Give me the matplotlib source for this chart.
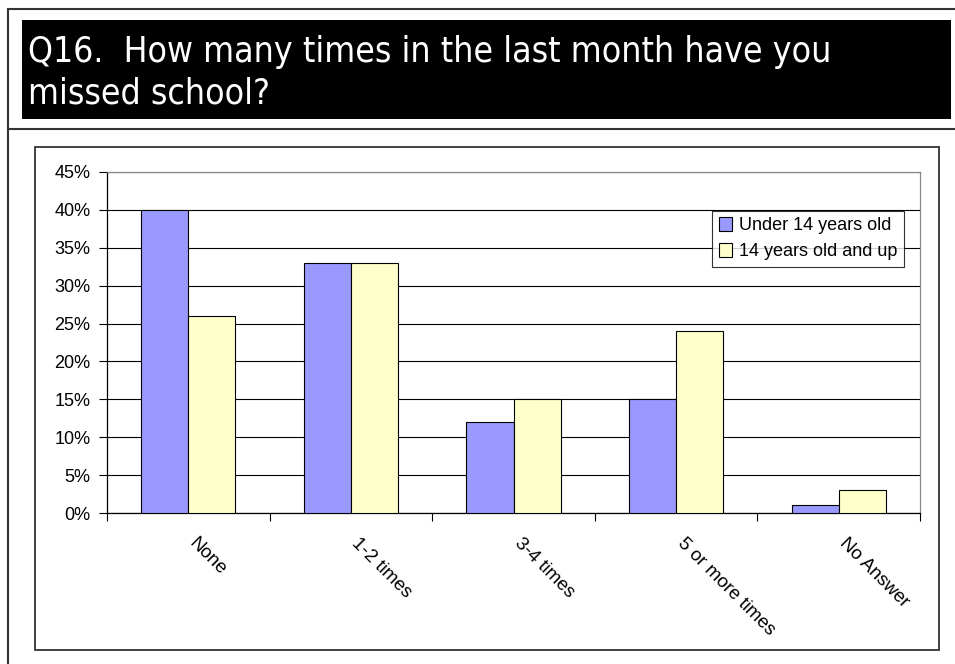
import matplotlib
matplotlib.use('Agg')
import matplotlib.pyplot as plt
from matplotlib.patches import Rectangle
from matplotlib.lines import Line2D
import numpy as np

categories = ['None', '1-2 times', '3-4 times', '5 or more times', 'No Answer']
under_14 = [40, 33, 12, 15, 1]
over_14 = [26, 33, 15, 24, 3]
series_names = ['Under 14 years old', '14 years old and up']
title_lines = ['Q16.  How many times in the last month have you', 'missed school?']

W, H = 955, 664
fig = plt.figure(figsize=(W / 100, H / 100), dpi=100)
plt.rcParams['font.family'] = ['Liberation Sans', 'DejaVu Sans']

def fx(x):
    return x / W

def fy(y):
    return 1 - y / H

# page frame lines
fig.add_artist(Line2D([fx(8), 1], [fy(9), fy(9)], color='#333333', lw=1.5))
fig.add_artist(Line2D([fx(8), fx(8)], [fy(9), 0], color='#333333', lw=1.5))
fig.add_artist(Line2D([fx(8), 1], [fy(129), fy(129)], color='#333333', lw=1.5))

# black title box
fig.add_artist(Rectangle((fx(22), fy(119)), fx(929), 99 / H, facecolor='black',
                         edgecolor='none', transform=fig.transFigure))
for i, line in enumerate(title_lines):
    fig.text(fx(28), fy(62 + 41 * i), line, color='white', fontsize=25.5,
             family='DejaVu Sans', fontstretch='condensed', va='baseline')

# chart frame
fig.add_artist(Rectangle((fx(35), fy(650)), fx(904), 503 / H, facecolor='none',
                         edgecolor='#333333', lw=1.3, transform=fig.transFigure))

ax = fig.add_axes([fx(107), fy(513), fx(813), 341 / H])
x = np.arange(len(categories))
w = 0.29
ax.bar(x - w / 2, under_14, w, color='#9999FF', edgecolor='black', lw=0.8,
       label=series_names[0], zorder=3)
ax.bar(x + w / 2, over_14, w, color='#FFFFCC', edgecolor='black', lw=0.8,
       label=series_names[1], zorder=3)

ax.set_xlim(-0.5, len(categories) - 0.5)
ax.set_ylim(0, 45)
ax.set_yticks(np.arange(0, 46, 5))
ax.set_yticklabels([f'{v}%' for v in range(0, 46, 5)], fontsize=13)
ax.yaxis.grid(True, color='black', lw=0.8, zorder=0)
ax.tick_params(axis='y', length=6, width=0.8, pad=6)

ax.set_xticks(np.arange(len(categories) + 1) - 0.5)
ax.set_xticklabels([])
ax.tick_params(axis='x', length=6, width=0.8)
for i, c in enumerate(categories):
    ax.annotate(c, xy=(i, 0), xycoords=('data', 'axes fraction'),
                xytext=(7, -16), textcoords='offset points', rotation=-45,
                rotation_mode='anchor', ha='left', va='top', fontsize=13.5)

for s in ['left', 'bottom']:
    ax.spines[s].set_color('black')
    ax.spines[s].set_linewidth(0.9)
for s in ['top', 'right']:
    ax.spines[s].set_color('#888888')
    ax.spines[s].set_linewidth(0.9)

leg = ax.legend(loc='upper right', bbox_to_anchor=((904 - 107) / 813, (513 - 211) / 341),
                fontsize=13, frameon=True, fancybox=False, borderpad=0.35,
                handlelength=0.75, handleheight=0.75, handletextpad=0.4,
                labelspacing=0.5, borderaxespad=0)
leg.get_frame().set_edgecolor('black')
leg.get_frame().set_linewidth(0.8)

fig.savefig('out.png', dpi=100)
